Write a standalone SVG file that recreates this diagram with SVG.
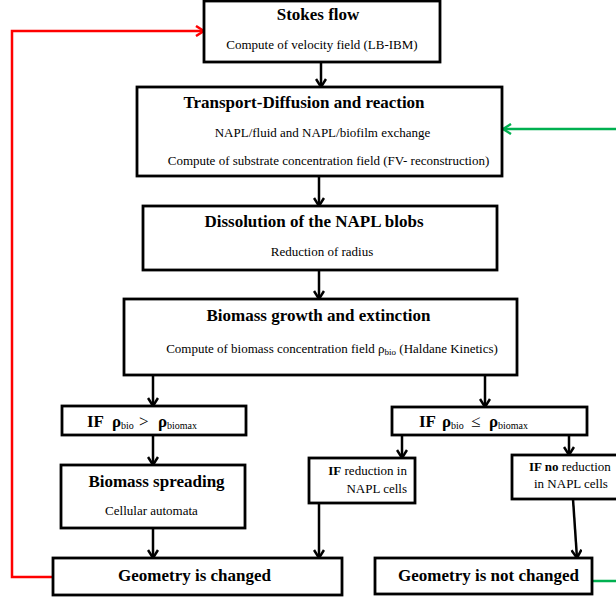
<svg xmlns="http://www.w3.org/2000/svg" width="616" height="600" viewBox="0 0 616 600">
  <style>
    .box { fill: #fff; stroke: #000; stroke-width: 2.8; }
    .ttl { font-family: 'Liberation Serif', 'DejaVu Serif', serif; font-weight: bold; font-size: 17px; fill: #000; }
    .txt { font-family: 'Liberation Serif', 'DejaVu Serif', serif; font-size: 13px; fill: #000; }
    .bold { font-weight: bold; }
    .sub { font-size: 9px; font-weight: normal; }
    .sub2 { font-size: 10px; font-weight: normal; }
    .con { fill: none; stroke: #000; stroke-width: 2.5; marker-end: url(#ah); }
    .red { fill: none; stroke: #ff0000; stroke-width: 2.5; marker-end: url(#ahr); }
    .green { fill: none; stroke: #00b050; stroke-width: 2.5; marker-end: url(#ahg); }
  </style>
  <defs>
    <marker id="ah" viewBox="0 0 10 12" refX="9" refY="6" markerWidth="10" markerHeight="12" markerUnits="userSpaceOnUse" orient="auto">
      <path d="M1,1 L9,6 L1,11" fill="none" stroke="#000" stroke-width="2.5"/>
    </marker>
    <marker id="ahr" viewBox="0 0 10 12" refX="9" refY="6" markerWidth="10" markerHeight="12" markerUnits="userSpaceOnUse" orient="auto">
      <path d="M1,1 L9,6 L1,11" fill="none" stroke="#ff0000" stroke-width="2.5"/>
    </marker>
    <marker id="ahg" viewBox="0 0 10 12" refX="9" refY="6" markerWidth="10" markerHeight="12" markerUnits="userSpaceOnUse" orient="auto">
      <path d="M1,1 L9,6 L1,11" fill="none" stroke="#00b050" stroke-width="2.5"/>
    </marker>
  </defs>
  <rect width="616" height="600" fill="#fff"/>

  <g id="connectors">
    <path class="con" d="M321,62 V87"/>
    <path class="con" d="M319,176 V206"/>
    <path class="con" d="M319,270 V299"/>
    <path class="con" d="M153,375 V406"/>
    <path class="con" d="M485,375 V407"/>
    <path class="con" d="M153,435 V465"/>
    <path class="con" d="M153,528 V558"/>
    <path class="con" d="M402,435 V458"/>
    <path class="con" d="M569,435 V455"/>
    <path class="con" d="M319,503 V558"/>
    <path class="con" d="M573,499 L577,558"/>
    <path class="red" d="M53,577 H12 V31 H204"/>
    <path class="green" d="M592,581 H640 V129 H503"/>
  </g>

  <g id="stokes">
    <rect class="box" x="204" y="1" width="236" height="61"/>
    <text class="ttl" x="318" y="20" text-anchor="middle" font-family="Liberation Serif, serif">Stokes flow</text>
    <text class="txt" x="322" y="49" text-anchor="middle">Compute of velocity field (LB-IBM)</text>
  </g>

  <g id="transport">
    <rect class="box" x="137" y="87" width="365" height="89"/>
    <text class="ttl" x="304" y="108" text-anchor="middle">Transport-Diffusion and reaction</text>
    <text class="txt" x="322.5" y="137" text-anchor="middle">NAPL/fluid and NAPL/biofilm exchange</text>
    <text class="txt" x="328.5" y="165" text-anchor="middle">Compute of substrate concentration field (FV- reconstruction)</text>
  </g>

  <g id="dissolution">
    <rect class="box" x="143" y="206" width="354" height="64"/>
    <text class="ttl" x="314" y="227" text-anchor="middle">Dissolution of the NAPL blobs</text>
    <text class="txt" x="322" y="256" text-anchor="middle">Reduction of radius</text>
  </g>

  <g id="biomass">
    <rect class="box" x="124" y="299" width="393" height="76"/>
    <text class="ttl" x="318.5" y="321" text-anchor="middle">Biomass growth and extinction</text>
    <text class="txt" x="332" y="353" text-anchor="middle">Compute of biomass concentration field ρ<tspan class="sub" dy="2">bio</tspan><tspan dy="-2"> (Haldane Kinetics)</tspan></text>
  </g>

  <g id="if-greater">
    <rect class="box" x="62" y="406" width="184" height="29"/>
    <text class="ttl">
      <tspan x="87" y="427">IF</tspan>
      <tspan x="112" y="427">ρ</tspan><tspan class="sub2" x="121" y="429">bio</tspan>
      <tspan x="139" y="427" font-weight="normal">&gt;</tspan>
      <tspan x="158" y="427">ρ</tspan><tspan class="sub2" x="167" y="429">biomax</tspan>
    </text>
  </g>

  <g id="if-less">
    <rect class="box" x="392" y="407" width="195" height="28"/>
    <text class="ttl">
      <tspan x="419" y="427">IF</tspan>
      <tspan x="442" y="427">ρ</tspan><tspan class="sub2" x="451" y="429">bio</tspan>
      <tspan x="471" y="427" font-weight="normal">≤</tspan>
      <tspan x="489" y="427">ρ</tspan><tspan class="sub2" x="498" y="429">biomax</tspan>
    </text>
  </g>

  <g id="spreading">
    <rect class="box" x="61" y="465" width="184" height="63"/>
    <text class="ttl" x="156.5" y="487" text-anchor="middle">Biomass spreading</text>
    <text class="txt" x="151.5" y="515" text-anchor="middle">Cellular automata</text>
  </g>

  <g id="if-reduction">
    <rect class="box" x="309" y="458" width="106" height="45"/>
    <text class="txt" x="407" y="475" text-anchor="end"><tspan class="bold">IF</tspan> reduction in</text>
    <text class="txt" x="407" y="493" text-anchor="end">NAPL cells</text>
  </g>

  <g id="if-no-reduction">
    <rect class="box" x="512" y="455" width="110" height="44"/>
    <text class="txt" x="529" y="471"><tspan class="bold">IF no</tspan> reduction</text>
    <text class="txt" x="534" y="488">in NAPL cells</text>
  </g>

  <g id="geometry-changed">
    <rect class="box" x="53" y="558" width="289" height="37"/>
    <text class="ttl" x="194.5" y="581" text-anchor="middle">Geometry is changed</text>
  </g>

  <g id="geometry-not-changed">
    <rect class="box" x="375" y="558" width="217" height="36"/>
    <text class="ttl" x="488.5" y="581" text-anchor="middle">Geometry is not changed</text>
  </g>
</svg>
